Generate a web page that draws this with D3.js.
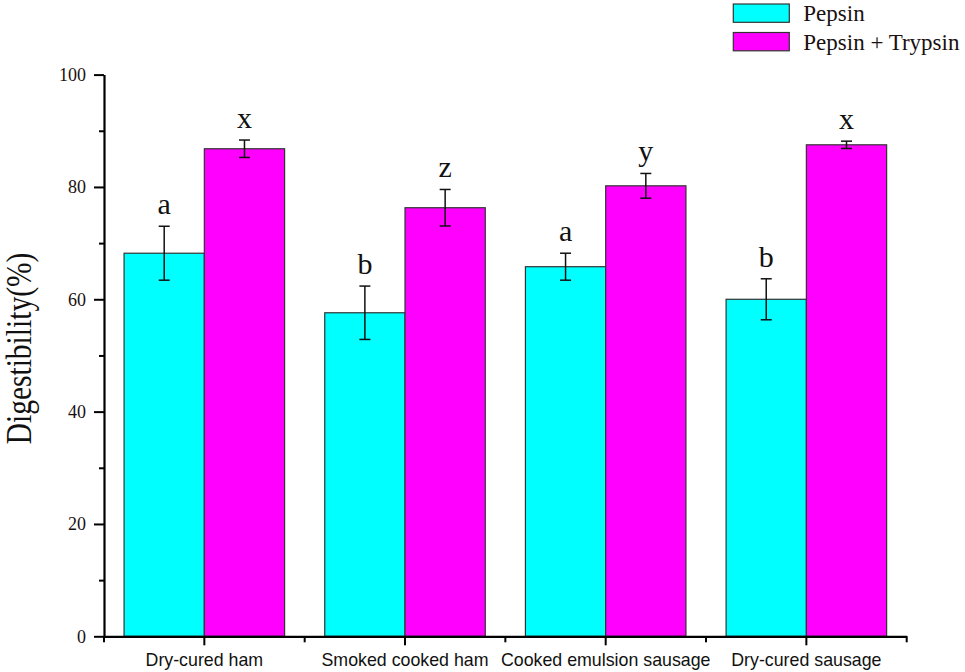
<!DOCTYPE html>
<html>
<head>
<meta charset="utf-8">
<script src="https://cdn.jsdelivr.net/npm/d3@7"></script>
<style>
  body { margin: 0; background: #fff; }
  svg { display: block; }
</style>
</head>
<body>
<div id="content"></div>
<script>
// Data.
var categories = ["Dry-cured ham", "Smoked cooked ham", "Cooked emulsion sausage", "Dry-cured sausage"];
var seriesNames = ["Pepsin", "Pepsin + Trypsin"];
var pepsin = [68.2, 57.6, 65.8, 60.0];
var pepsinErr = [4.8, 4.75, 2.4, 3.65];
var pepsinLetters = ["a", "b", "a", "b"];
var pepsinTrypsin = [86.8, 76.3, 80.2, 87.5];
var pepsinTrypsinErr = [1.55, 3.25, 2.2, 0.65];
var pepsinTrypsinLetters = ["x", "z", "y", "x"];
var yTicks = [0, 20, 40, 60, 80, 100];
var yMinorTicks = [10, 30, 50, 70, 90];
var colors = ["#00ffff", "#ff00ff"];

// SVG dimensions.
var margin = {left : 104, right : 58.3, top : 74.6, bottom : 35.7};
var width = 965 - margin.left - margin.right;
var height = 672 - margin.top - margin.bottom;

var serif = "'Liberation Serif', 'Times New Roman', serif";
var sans = "'Liberation Sans', Arial, sans-serif";

var svg = d3.select('#content')
              .append('svg')
              .attr('width', 965)
              .attr('height', 672);

var g = svg.append('g').attr('transform', 'translate(' + margin.left + ',' + margin.top + ')');

// Scales.
var x0 = d3.scaleBand().domain(categories).range([0, width]).padding(0);
var x1 = d3.scaleBand().domain(seriesNames).range([0, x0.bandwidth()])
             .paddingInner(0).paddingOuter(0.25);
var y = d3.scaleLinear().domain([0, 100]).range([height, 0]);

// Rows for bars.
var rows = [];
categories.forEach(function(c, i) {
  rows.push({cat : c, s : seriesNames[0], v : pepsin[i], e : pepsinErr[i], l : pepsinLetters[i], k : 0});
  rows.push({cat : c, s : seriesNames[1], v : pepsinTrypsin[i], e : pepsinTrypsinErr[i], l : pepsinTrypsinLetters[i], k : 1});
});

function cx(d) { return x0(d.cat) + x1(d.s) + x1.bandwidth() / 2; }

// Bars.
g.selectAll('rect.bar')
    .data(rows)
    .enter().append('rect')
    .attr('class', 'bar')
    .attr('x', function(d) { return x0(d.cat) + x1(d.s); })
    .attr('y', function(d) { return y(d.v); })
    .attr('width', x1.bandwidth())
    .attr('height', function(d) { return height - y(d.v); })
    .attr('fill', function(d) { return colors[d.k]; })
    .attr('stroke', '#333')
    .attr('stroke-width', 1.2);

// Error bars.
var eb = g.selectAll('g.err').data(rows).enter().append('g').attr('class', 'err')
            .attr('stroke', '#111').attr('stroke-width', 1.5);
eb.append('line')
    .attr('x1', cx).attr('x2', cx)
    .attr('y1', function(d) { return y(d.v + d.e); })
    .attr('y2', function(d) { return y(d.v - d.e); });
eb.append('line')
    .attr('x1', function(d) { return cx(d) - 5.5; }).attr('x2', function(d) { return cx(d) + 5.5; })
    .attr('y1', function(d) { return y(d.v + d.e); })
    .attr('y2', function(d) { return y(d.v + d.e); });
eb.append('line')
    .attr('x1', function(d) { return cx(d) - 5.5; }).attr('x2', function(d) { return cx(d) + 5.5; })
    .attr('y1', function(d) { return y(d.v - d.e); })
    .attr('y2', function(d) { return y(d.v - d.e); });

// Significance letters.
g.selectAll('text.letter')
    .data(rows)
    .enter().append('text')
    .attr('class', 'letter')
    .attr('x', cx)
    .attr('y', function(d) { return y(d.v + d.e) - 12; })
    .attr('text-anchor', 'middle')
    .attr('font-family', serif)
    .attr('font-size', 30)
    .attr('fill', '#111')
    .text(function(d) { return d.l; });

// Y axis.
var yAxis = g.append('g')
    .call(d3.axisLeft(y).tickValues(yTicks).tickSize(10).tickSizeOuter(0).tickPadding(8));
g.append('g')
    .call(d3.axisLeft(y).tickValues(yMinorTicks).tickSize(5).tickSizeOuter(0).tickFormat(''))
    .select('.domain').remove();

// X axis.
var xAxis = g.append('g')
    .attr('transform', 'translate(0,' + height + ')')
    .call(d3.axisBottom(x0).tickSize(9).tickSizeOuter(0).tickPadding(8));
var bounds = [0].concat(categories.map(function(c) { return x0(c) + x0.bandwidth(); }));
g.append('g')
    .attr('transform', 'translate(0,' + height + ')')
    .selectAll('line').data(bounds).enter().append('line')
    .attr('x1', function(d) { return d; }).attr('x2', function(d) { return d; })
    .attr('y1', 0).attr('y2', 6)
    .attr('stroke', '#000').attr('stroke-width', 2);

g.selectAll('.domain').attr('stroke', '#000').attr('stroke-width', 2.2);
g.selectAll('.tick line').attr('stroke', '#000').attr('stroke-width', 2);
yAxis.selectAll('text').attr('font-family', serif).attr('font-size', 18).attr('fill', '#1a1010');
xAxis.selectAll('text').attr('font-family', sans).attr('font-size', 17.8).attr('fill', '#111');

// Y axis title.
svg.append('text')
    .attr('transform', 'translate(31,348.5) rotate(-90) scale(1,1.2)')
    .attr('text-anchor', 'middle')
    .attr('font-family', serif)
    .attr('font-size', 29.5)
    .attr('fill', '#111')
    .text('Digestibility(%)');

// Legend.
var legend = svg.append('g').attr('transform', 'translate(733.3,4)');
seriesNames.forEach(function(s, i) {
  legend.append('rect')
      .attr('x', 0).attr('y', i * 28.5)
      .attr('width', 56).attr('height', 18.3)
      .attr('fill', colors[i])
      .attr('stroke', '#333').attr('stroke-width', 1.2);
  legend.append('text')
      .attr('x', 70).attr('y', i * 28.5 + 17)
      .attr('font-family', serif)
      .attr('font-size', 23)
      .attr('fill', '#1a1010')
      .text(s);
});
</script>
</body>
</html>
